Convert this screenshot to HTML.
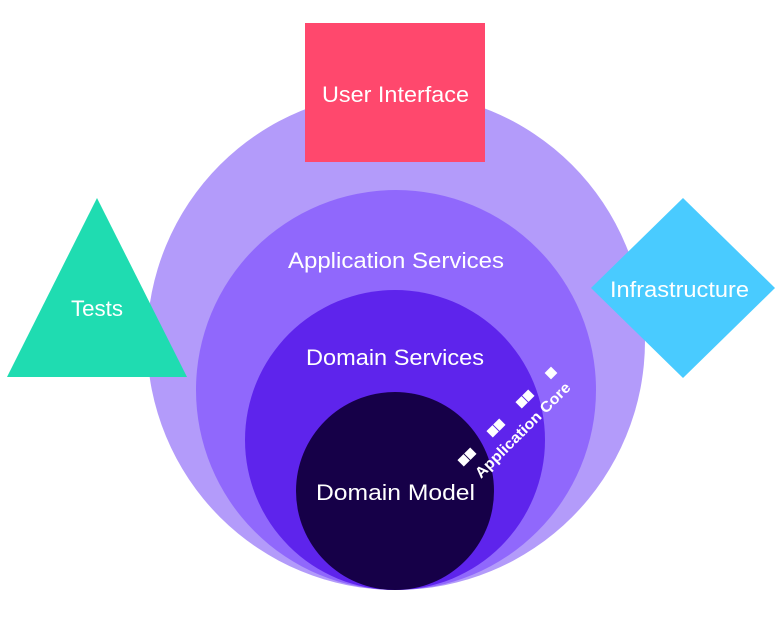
<!DOCTYPE html>
<html><head><style>
body{margin:0;background:#fff;width:780px;height:620px;overflow:hidden}
</style></head><body>
<svg width="780" height="620" xmlns="http://www.w3.org/2000/svg" font-family="Liberation Sans, sans-serif">
<circle cx="396" cy="341" r="249" fill="#b39bfa"/>
<circle cx="396" cy="390" r="200" fill="#9068fc"/>
<circle cx="395" cy="440" r="150" fill="#5e24ec"/>
<circle cx="395" cy="491" r="99" fill="#160048"/>
<rect x="305" y="23" width="180" height="139" fill="#ff486d"/>
<polygon points="97,198 187,377 7,377" fill="#1fdcb1"/>
<polygon points="683,198 775,288 683,378 591,288" fill="#49cbff"/>
<g fill="#fff" font-size="22">
<text x="322" y="102" textLength="147" lengthAdjust="spacingAndGlyphs">User Interface</text>
<text x="71" y="316" textLength="52" lengthAdjust="spacingAndGlyphs">Tests</text>
<text x="610" y="297" textLength="139" lengthAdjust="spacingAndGlyphs">Infrastructure</text>
<text x="288" y="268" textLength="216" lengthAdjust="spacingAndGlyphs">Application Services</text>
<text x="306" y="365" textLength="178" lengthAdjust="spacingAndGlyphs">Domain Services</text>
<text x="316" y="500" textLength="159" lengthAdjust="spacingAndGlyphs">Domain Model</text>
<text x="0" y="0" font-size="15" font-weight="bold" transform="translate(481,479) rotate(-45)" textLength="128" lengthAdjust="spacingAndGlyphs">Application Core</text>
</g>
<g fill="#fff">
<rect x="-9" y="-4.5" width="8.5" height="9" transform="translate(467,457) rotate(-45)"/>
<rect x="0.5" y="-4.5" width="8.5" height="9" transform="translate(467,457) rotate(-45)"/>
<rect x="-9" y="-4.5" width="8.5" height="9" transform="translate(496,428) rotate(-45)"/>
<rect x="0.5" y="-4.5" width="8.5" height="9" transform="translate(496,428) rotate(-45)"/>
<rect x="-9" y="-4.5" width="8.5" height="9" transform="translate(525,399) rotate(-45)"/>
<rect x="0.5" y="-4.5" width="8.5" height="9" transform="translate(525,399) rotate(-45)"/>
<rect x="-4.5" y="-4.5" width="9" height="9" transform="translate(551,373) rotate(-45)"/>
</g>
</svg>
</body></html>
